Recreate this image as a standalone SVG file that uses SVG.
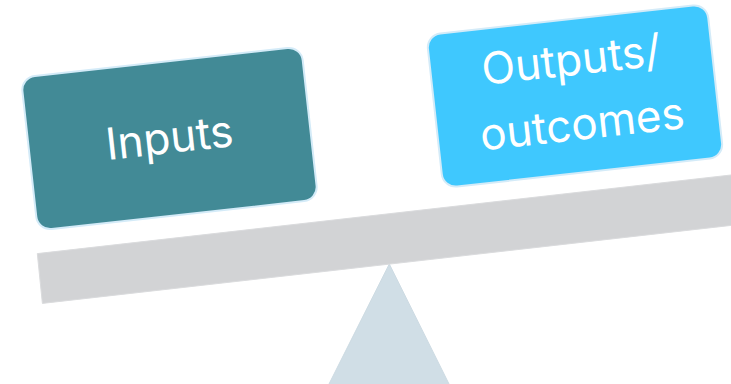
<svg xmlns="http://www.w3.org/2000/svg" width="731" height="384" viewBox="0 0 731 384">
  <style>
    .box { stroke: #d4ebf8; stroke-width: 2; }
    .label { font-family: Inter, "Open Sans", "Liberation Sans", sans-serif; font-size: 44px; fill: #ffffff; text-anchor: middle; }
  </style>
  <rect width="731" height="384" fill="#ffffff"/>

  <!-- fulcrum -->
  <g id="fulcrum">
    <polygon points="389.3,264 324,394 454,394" fill="#d0dee6" stroke="#cddbe3" stroke-width="1"/>
  </g>

  <!-- tilted beam -->
  <g id="beam">
    <polygon points="37.3,253.6 740,174 740,224.4 42.4,303.4" fill="#d2d3d5" stroke="#dadbdd" stroke-width="1"/>
  </g>

  <!-- left pan -->
  <g id="inputs" transform="rotate(-6.3 169.5 138.5)">
    <rect class="box" x="28.5" y="61.5" width="282" height="154" rx="14" fill="#428a96"/>
    <text class="label" x="169.5" y="153">Inputs</text>
  </g>

  <!-- right pan -->
  <g id="outputs" transform="rotate(-6.3 575 96)">
    <rect class="box" x="434" y="19" width="282" height="154" rx="14" fill="#3fc8fe"/>
    <text class="label" x="575" y="75">Outputs/</text>
    <text class="label" x="579" y="140">outcomes</text>
  </g>
</svg>
